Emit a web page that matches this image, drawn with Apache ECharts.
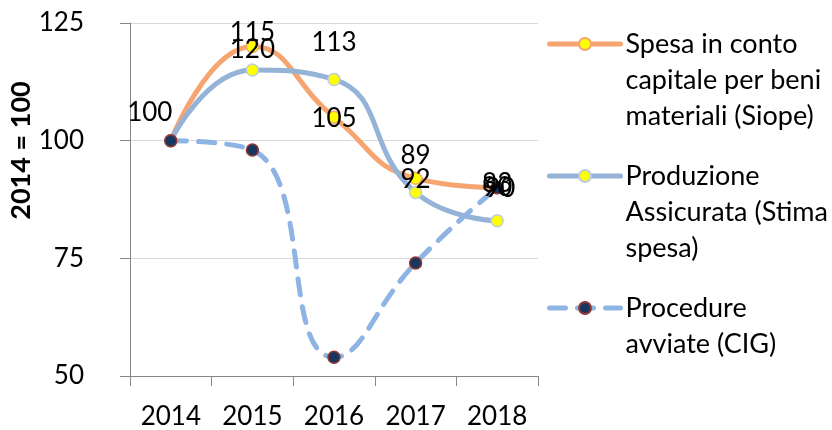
<!DOCTYPE html>
<html>
<head>
<meta charset="utf-8">
<script src="https://cdn.jsdelivr.net/npm/echarts@6/dist/echarts.min.js"></script>
<style>html,body{margin:0;padding:0;background:#fff}#c{width:832px;height:430px}</style>
</head>
<body>
<div id="c"></div>
<script>
const categories = ['2014', '2015', '2016', '2017', '2018'];
const seriesNames = [
  'Spesa in conto capitale per beni materiali (Siope)',
  'Produzione Assicurata (Stima spesa)',
  'Procedure avviate (CIG)'
];
const legendLines = [
  ['Spesa in conto', 'capitale per beni', 'materiali (Siope)'],
  ['Produzione', 'Assicurata (Stima', 'spesa)'],
  ['Procedure', 'avviate (CIG)']
];
const spesaValues = [100, 120, 105, 92, 90];
const produzioneValues = [100, 115, 113, 89, 83];
const procedureValues = [100, 98, 54, 74, 90];
const yTicks = [50, 75, 100, 125];

const FONT = 'Lato, "Open Sans", sans-serif';
const chart = echarts.init(document.getElementById('c'), null, {renderer: 'canvas'});

// label placement config (styling, not data)
const spesaLabelOpts = [ {offset: [-21, -28]}, {offset: [0, 3]}, {offset: [0, 1]}, {offset: [0, 1]}, {offset: [0, 0]} ];
const prodLabelOpts = [ {show: false}, {}, {}, {}, {} ];
const procLabelOpts = [ {}, {}, {}, {}, {show: true, offset: [3, 1]} ];

function build(values, opts) {
  return values.map((v, i) => ({value: v, label: opts[i]}));
}

const labelBase = {fontFamily: FONT, fontSize: 26, color: '#000', position: 'inside'};
const LH = 36;

function legendFor(idx, top) {
  const n = legendLines[idx].length;
  return {
    orient: 'vertical', left: 547, top: top, padding: 0,
    itemWidth: 71, itemHeight: 15,
    selectedMode: false,
    data: [seriesNames[idx]],
    formatter: () => legendLines[idx].map(s => '{t|' + s + '}').join('\n'),
    lineStyle: {width: 5},
    textStyle: {
      fontFamily: FONT, fontSize: 27, color: '#000', lineHeight: LH,
      padding: [(n - 1) * LH, 0, 0, 0],
      rich: {t: {fontFamily: FONT, fontSize: 27, color: '#000', lineHeight: LH}}
    }
  };
}

chart.setOption({
  animation: false,
  backgroundColor: '#fff',
  grid: {left: 130, right: 294, top: 23, bottom: 52},
  legend: [
    legendFor(0, -46),
    legendFor(1, 86),
    legendFor(2, 254)
  ],
  xAxis: {
    type: 'category', data: categories, boundaryGap: true,
    axisLine: {show: true, lineStyle: {color: '#868686', width: 1}},
    axisTick: {show: true, length: 10, alignWithLabel: false, lineStyle: {color: '#868686'}},
    axisLabel: {fontFamily: FONT, fontSize: 26, color: '#000', margin: 28, interval: 0},
    splitLine: {show: false}
  },
  yAxis: {
    type: 'value', min: yTicks[0], max: yTicks[yTicks.length - 1], interval: 25,
    name: '2014 = 100', nameLocation: 'middle', nameGap: 93,
    nameTextStyle: {fontFamily: FONT, fontSize: 27, fontWeight: 'bold', color: '#000', padding: [0, 0, 0, 98]},
    axisLine: {show: true, lineStyle: {color: '#868686', width: 1}},
    axisTick: {show: true, length: 10, lineStyle: {color: '#868686'}},
    axisLabel: {fontFamily: FONT, fontSize: 26, color: '#000', margin: 46},
    splitLine: {show: true, lineStyle: {color: '#D9D9D9', width: 1}}
  },
  series: [
    {
      name: seriesNames[0], type: 'line', smooth: 0.5,
      data: build(spesaValues, spesaLabelOpts),
      symbol: 'circle', symbolSize: 12,
      lineStyle: {color: '#F6A571', width: 5, cap: 'round'},
      itemStyle: {color: '#FFFF00', borderColor: '#F6A571', borderWidth: 1.5},
      label: Object.assign({show: true}, labelBase)
    },
    {
      name: seriesNames[1], type: 'line', smooth: 0.5,
      data: build(produzioneValues, prodLabelOpts),
      symbol: 'circle', symbolSize: 12,
      lineStyle: {color: '#95B3D7', width: 5, cap: 'round'},
      itemStyle: {color: '#FFFF00', borderColor: '#B9CDE5', borderWidth: 1.5},
      label: Object.assign({show: true, offset: [0, -37]}, labelBase)
    },
    {
      name: seriesNames[2], type: 'line', smooth: 0.5,
      data: build(procedureValues, procLabelOpts),
      symbol: 'circle', symbolSize: 12,
      lineStyle: {color: '#8DB4E2', width: 5, type: [16, 12], cap: 'round'},
      itemStyle: {color: '#17375E', borderColor: '#953735', borderWidth: 1.5},
      label: Object.assign({show: false}, labelBase)
    }
  ]
});
</script>
</body>
</html>
